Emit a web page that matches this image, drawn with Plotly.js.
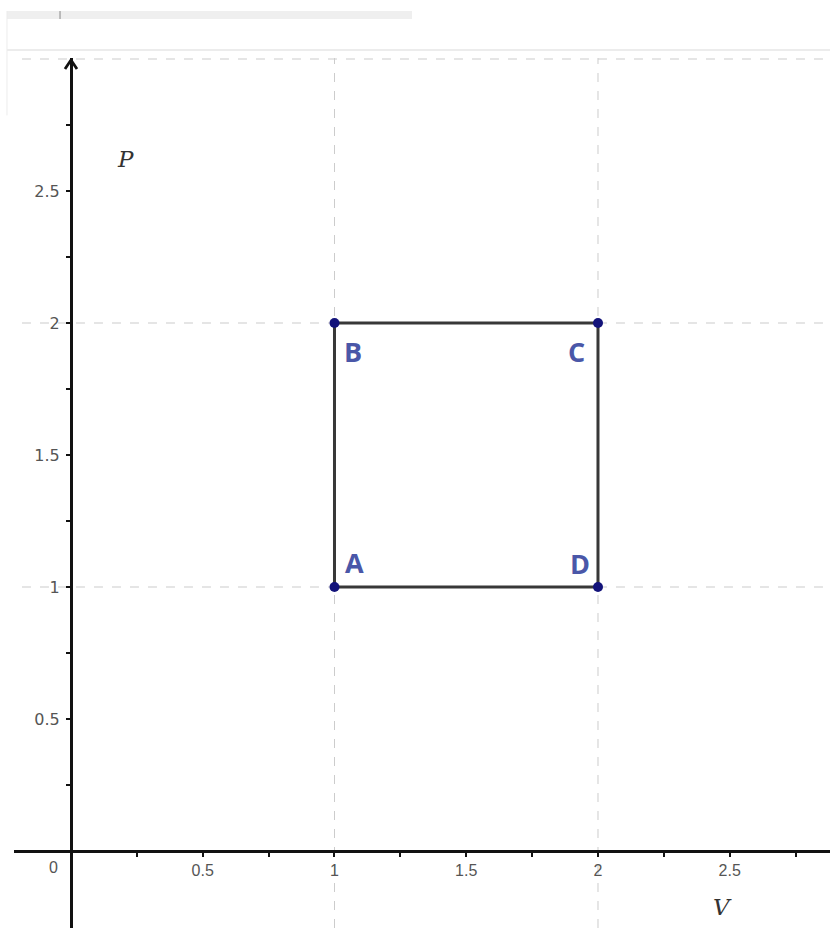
<!DOCTYPE html>
<html>
<head>
<meta charset="utf-8">
<script src="https://cdn.plot.ly/plotly-3.0.1.min.js"></script>
<style>html,body{margin:0;padding:0;background:#fff;}#chart{width:830px;height:928px;}</style>
</head>
<body>
<div id="chart"></div>
<script>
// ---- data ----
var pointNames = ['A', 'B', 'C', 'D'];
var pointV = [1, 1, 2, 2];
var pointP = [1, 2, 2, 1];
var cycleV = [1, 1, 2, 2, 1];
var cycleP = [1, 2, 2, 1, 1];
var xTickVals = [0.25, 0.5, 0.75, 1, 1.25, 1.5, 1.75, 2, 2.25, 2.5, 2.75];
var xTickText = ['', '0.5', '', '1', '', '1.5', '', '2', '', '2.5', ''];
var yTickVals = [0.25, 0.5, 0.75, 1, 1.25, 1.5, 1.75, 2, 2.25, 2.5, 2.75];
var yTickText = ['', '0.5', '', '1', '', '1.5', '', '2', '', '2.5', ''];
var gridV = [1, 2];
var gridP = [1, 2, 3];
// label offsets in pixels: [right, down]
var labelOffsets = {A: [20, -25], B: [19, 28], C: [-21, 28], D: [-18, -24]};

// ---- ranges ----
var xRange = [-0.2163, 2.8805];
var yRange = [-0.2917, 3.0038];
var yAxisPos = (0 - xRange[0]) / (xRange[1] - xRange[0]);
var xAxisPos = (0 - yRange[0]) / (yRange[1] - yRange[0]);

var traces = [
  {
    x: cycleV, y: cycleP, mode: 'lines', type: 'scatter',
    line: {color: '#383838', width: 3}, hoverinfo: 'skip', showlegend: false
  },
  {
    x: pointV, y: pointP, mode: 'markers', type: 'scatter',
    marker: {color: '#13137a', size: 10}, hoverinfo: 'skip', showlegend: false
  }
];

var shapes = [];
gridV.forEach(function (v) {
  shapes.push({type: 'line', xref: 'x', yref: 'paper', x0: v, x1: v, y0: 0, y1: 1,
    line: {color: '#cccccc', width: 1, dash: 'dash'}, layer: 'below'});
});
gridP.forEach(function (p) {
  shapes.push({type: 'line', xref: 'paper', yref: 'y', x0: 0.0098, x1: 1, y0: p, y1: p,
    line: {color: '#cccccc', width: 1.2, dash: 'dash'}, layer: 'below'});
});
// screenshot frame decorations above plot
shapes.push({type: 'rect', xref: 'paper', yref: 'paper', x0: -0.0086, x1: 0.4877, y0: 1.0448, y1: 1.054,
  fillcolor: '#efefef', line: {width: 0}});
shapes.push({type: 'line', xref: 'paper', yref: 'paper', x0: 0.0564, x1: 0.0564, y0: 1.0448, y1: 1.054,
  line: {color: '#888', width: 1}});
shapes.push({type: 'line', xref: 'paper', yref: 'paper', x0: -0.0086, x1: 1, y0: 1.0092, y1: 1.0092,
  line: {color: '#e6e6e6', width: 1.5}});
shapes.push({type: 'line', xref: 'paper', yref: 'paper', x0: -0.0086, x1: -0.0086, y0: 0.934, y1: 1.054,
  line: {color: '#ececec', width: 1}});
// open arrow head on the P axis
shapes.push({type: 'path', xref: 'x', yref: 'y', xsizemode: 'pixel', ysizemode: 'pixel',
  xanchor: 0, yanchor: 2.996, path: 'M -6 -9 L 0 0 L 6 -9',
  line: {color: '#111', width: 2.8}});

var annotations = [];
pointNames.forEach(function (n, i) {
  annotations.push({
    x: pointV[i], y: pointP[i], xref: 'x', yref: 'y', text: '<b>' + n + '</b>', showarrow: false,
    xshift: labelOffsets[n][0], yshift: -labelOffsets[n][1],
    font: {family: 'Open Sans, Noto Sans, sans-serif', size: 27, color: '#4a57a8'}
  });
});
// axis names
annotations.push({x: 0.205, y: 2.621, xref: 'x', yref: 'y', text: '<i>P</i>', showarrow: false,
  font: {family: 'DejaVu Serif, Liberation Serif, serif', size: 23, color: '#333'}});
annotations.push({x: 2.474, y: -0.212, xref: 'x', yref: 'y', text: '<i>V</i>', showarrow: false,
  font: {family: 'DejaVu Serif, Liberation Serif, serif', size: 23, color: '#333'}});
// origin label
annotations.push({x: -0.068, y: -0.064, xref: 'x', yref: 'y', text: '0', showarrow: false,
  font: {family: 'Liberation Sans, Arial, sans-serif', size: 16, color: '#555'}});

var layout = {
  width: 830, height: 928,
  margin: {l: 14, r: 0, t: 58, b: 0, pad: 0},
  paper_bgcolor: '#ffffff', plot_bgcolor: '#ffffff',
  showlegend: false,
  xaxis: {
    range: xRange, showgrid: false, zeroline: false, showline: true,
    linecolor: '#111', linewidth: 3,
    anchor: 'free', position: xAxisPos,
    tickmode: 'array', tickvals: xTickVals, ticktext: xTickText,
    ticks: 'outside', ticklen: 4, tickwidth: 2, tickcolor: '#111',
    tickfont: {family: 'Liberation Sans, Arial, sans-serif', size: 16, color: '#555'},
    fixedrange: true
  },
  yaxis: {
    range: yRange, showgrid: false, zeroline: false, showline: true,
    linecolor: '#111', linewidth: 3,
    anchor: 'free', position: yAxisPos,
    tickmode: 'array', tickvals: yTickVals, ticktext: yTickText,
    ticks: 'outside', ticklen: 4, tickwidth: 2, tickcolor: '#111',
    ticklabelstandoff: 3,
    tickfont: {family: 'DejaVu Sans, Liberation Sans, sans-serif', size: 16, color: '#555'},
    fixedrange: true
  },
  shapes: shapes,
  annotations: annotations
};

Plotly.newPlot('chart', traces, layout, {displayModeBar: false, staticPlot: true});
</script>
</body>
</html>
